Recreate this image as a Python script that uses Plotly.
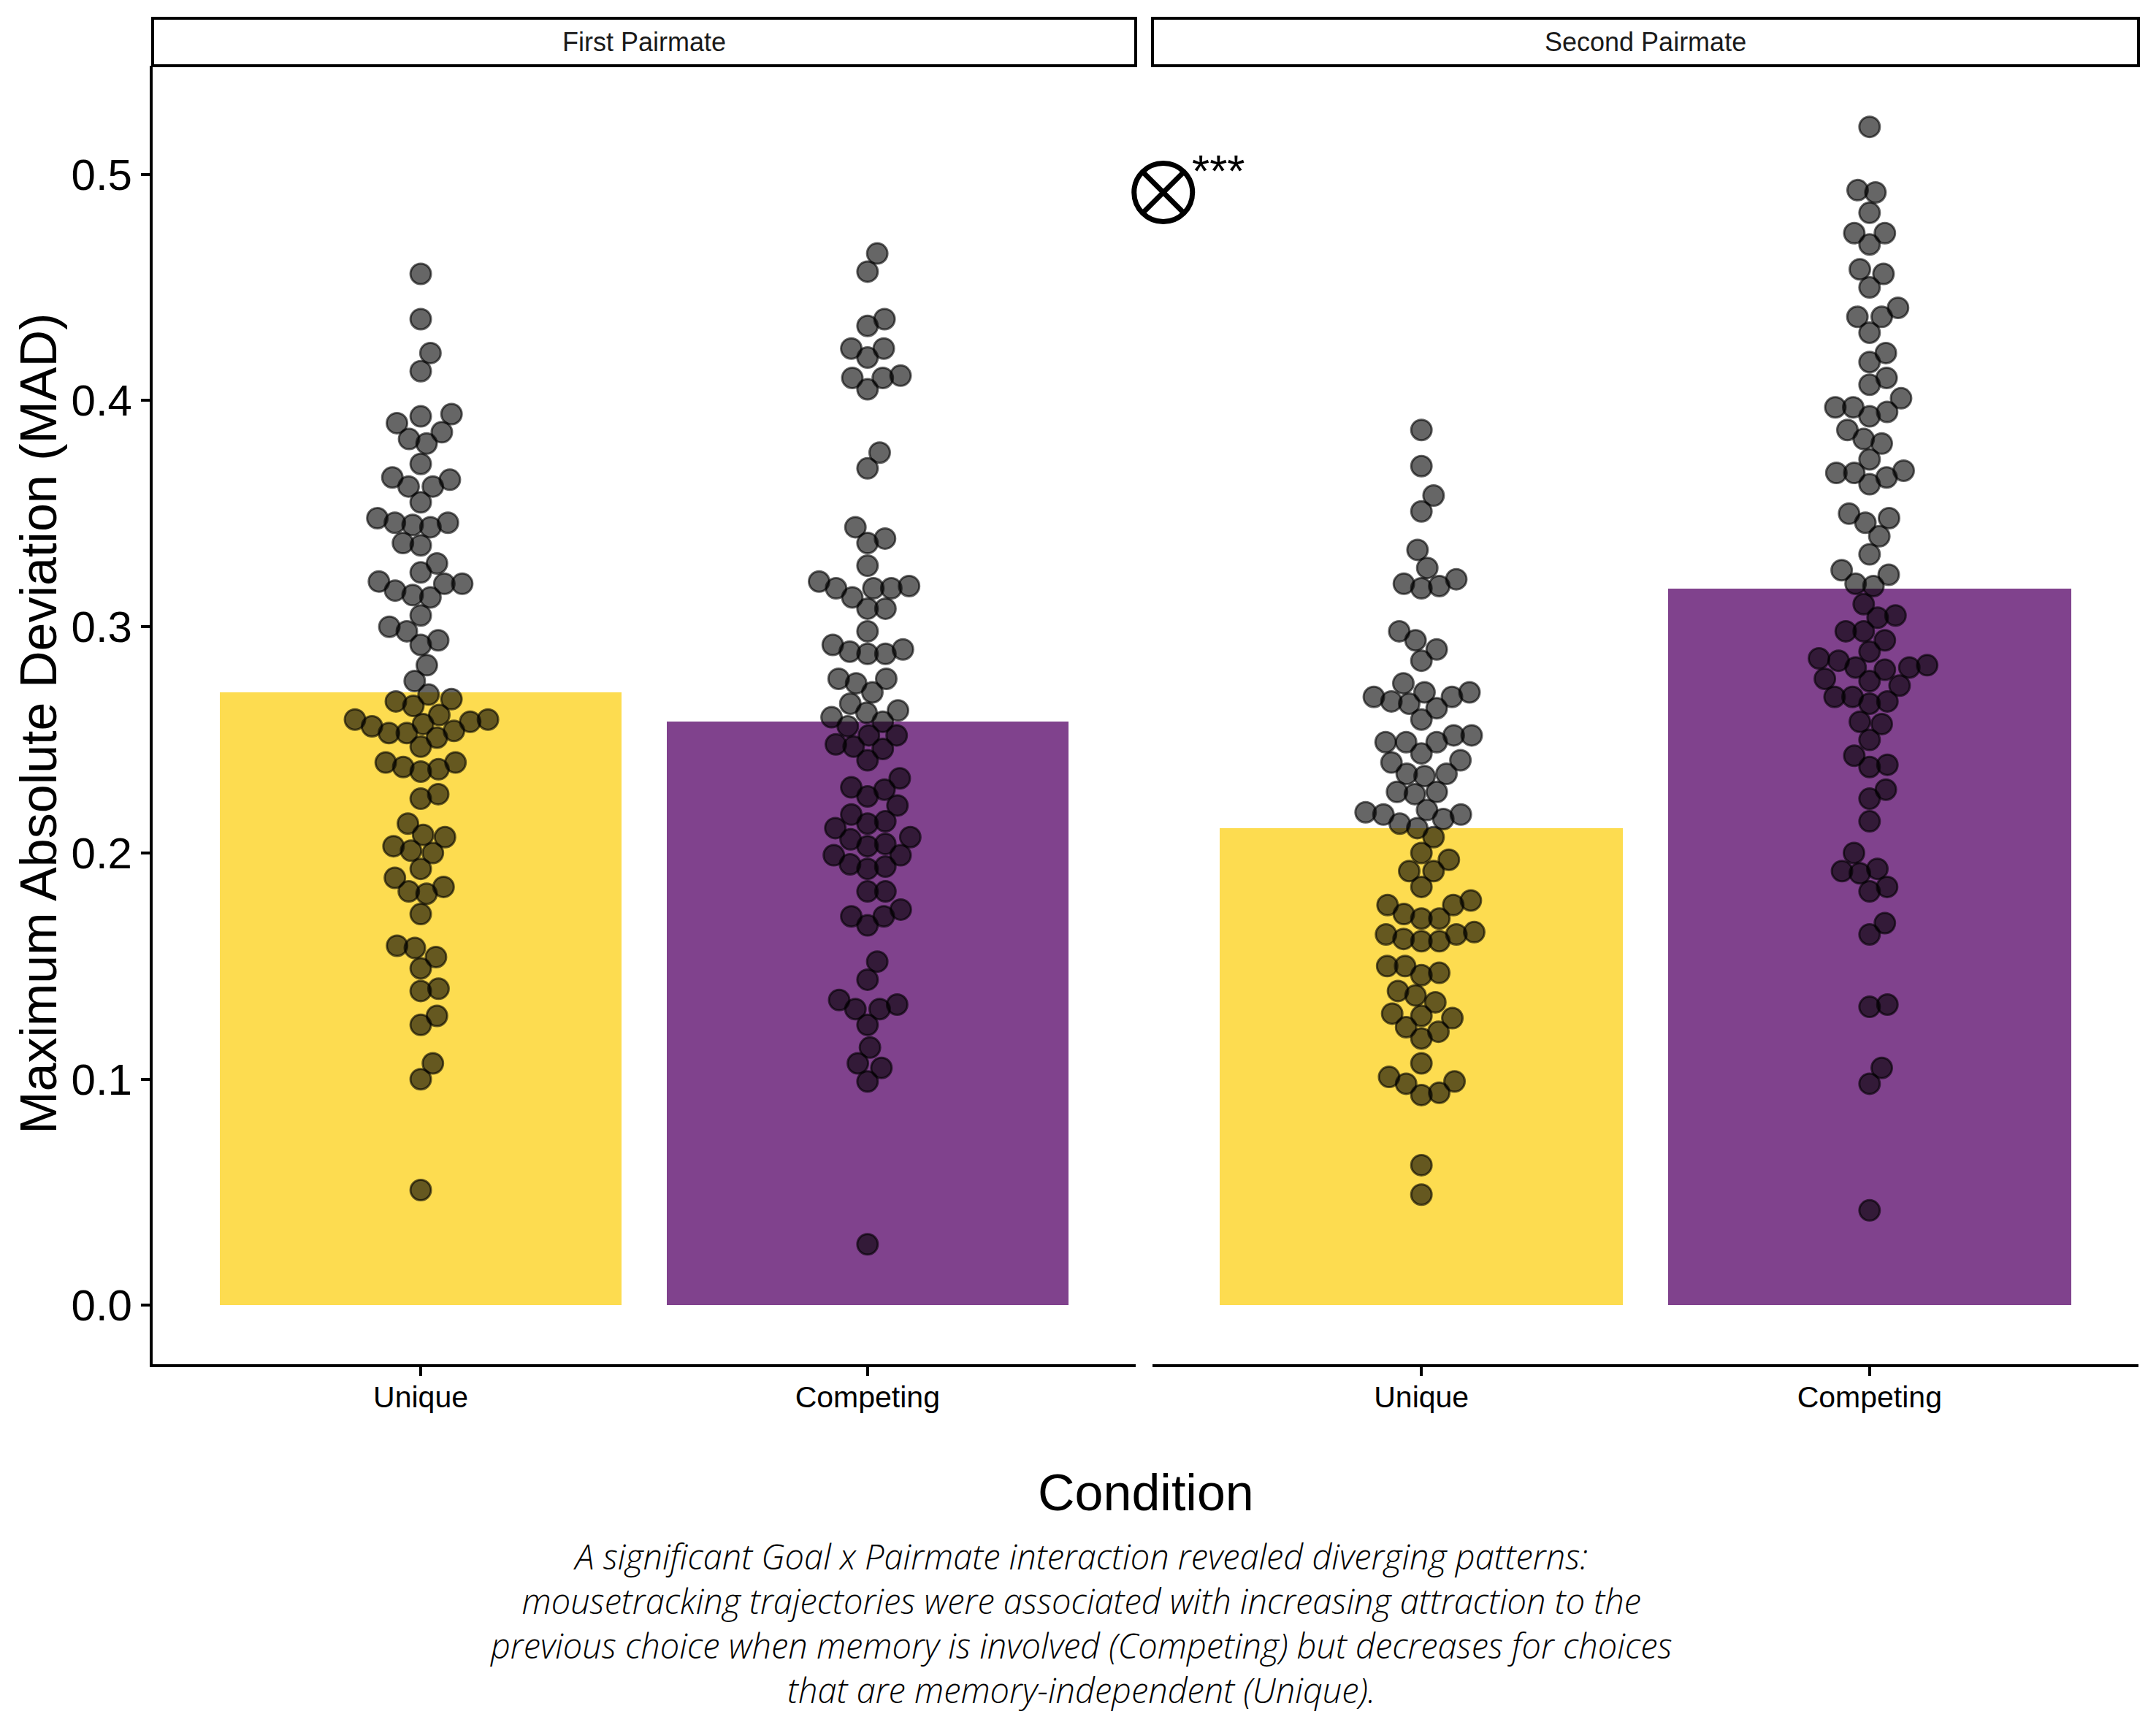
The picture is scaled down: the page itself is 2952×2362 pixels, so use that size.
import math
import plotly.graph_objects as go

# Maximum absolute deviation per participant
conditions = ["Unique", "Competing"]
panels = ["First Pairmate", "Second Pairmate"]

first_unique = [0.456, 0.436, 0.421, 0.413, 0.390, 0.393, 0.394, 0.383, 0.386, 0.381,
                0.372, 0.365, 0.366, 0.362, 0.362, 0.355, 0.346, 0.348, 0.344, 0.345,
                0.346, 0.337, 0.336, 0.328, 0.324, 0.319, 0.316, 0.314, 0.319, 0.320,
                0.313, 0.305, 0.300, 0.298, 0.294, 0.292, 0.283, 0.276, 0.270, 0.267,
                0.268, 0.265, 0.261, 0.259, 0.258, 0.257, 0.259, 0.256, 0.254, 0.253,
                0.251, 0.253, 0.247, 0.236, 0.238, 0.240, 0.240, 0.237, 0.226, 0.224,
                0.213, 0.207, 0.208, 0.200, 0.201, 0.203, 0.193, 0.189, 0.182, 0.183,
                0.185, 0.173, 0.159, 0.158, 0.154, 0.149, 0.140, 0.139, 0.128, 0.124,
                0.107, 0.100, 0.051]
first_competing = [0.465, 0.457, 0.436, 0.433, 0.423, 0.423, 0.419, 0.410, 0.411, 0.410,
                   0.405, 0.377, 0.370, 0.344, 0.337, 0.339, 0.327, 0.320, 0.317, 0.317,
                   0.317, 0.318, 0.313, 0.308, 0.308, 0.298, 0.292, 0.289, 0.288, 0.288,
                   0.290, 0.277, 0.275, 0.277, 0.271, 0.266, 0.262, 0.263, 0.260, 0.258,
                   0.256, 0.252, 0.252, 0.248, 0.247, 0.246, 0.241, 0.233, 0.228, 0.229,
                   0.225, 0.221, 0.217, 0.211, 0.213, 0.214, 0.207, 0.206, 0.204, 0.203,
                   0.199, 0.199, 0.195, 0.194, 0.193, 0.183, 0.183, 0.175, 0.172, 0.172,
                   0.168, 0.152, 0.144, 0.135, 0.133, 0.131, 0.131, 0.124, 0.114, 0.107,
                   0.105, 0.099, 0.027]
second_unique = [0.387, 0.371, 0.358, 0.351, 0.334, 0.326, 0.319, 0.317, 0.318, 0.321,
                 0.298, 0.294, 0.290, 0.285, 0.275, 0.271, 0.269, 0.267, 0.266, 0.269,
                 0.271, 0.264, 0.259, 0.252, 0.252, 0.249, 0.249, 0.249, 0.244, 0.241,
                 0.240, 0.235, 0.234, 0.235, 0.227, 0.226, 0.227, 0.215, 0.218, 0.213,
                 0.219, 0.211, 0.217, 0.217, 0.207, 0.200, 0.197, 0.192, 0.192, 0.185,
                 0.177, 0.177, 0.179, 0.171, 0.171, 0.173, 0.161, 0.164, 0.165, 0.164,
                 0.162, 0.161, 0.147, 0.150, 0.150, 0.146, 0.139, 0.137, 0.134, 0.127,
                 0.129, 0.128, 0.123, 0.121, 0.118, 0.107, 0.098, 0.099, 0.101, 0.093,
                 0.094, 0.062, 0.049]
second_competing = [0.521, 0.493, 0.492, 0.483, 0.474, 0.474, 0.469, 0.458, 0.456, 0.450,
                    0.441, 0.437, 0.437, 0.430, 0.421, 0.417, 0.410, 0.407, 0.401, 0.397,
                    0.397, 0.393, 0.395, 0.387, 0.383, 0.381, 0.374, 0.368, 0.368, 0.366,
                    0.369, 0.363, 0.348, 0.346, 0.350, 0.340, 0.332, 0.323, 0.325, 0.318,
                    0.319, 0.310, 0.305, 0.304, 0.298, 0.298, 0.294, 0.289, 0.281, 0.283,
                    0.285, 0.286, 0.282, 0.282, 0.277, 0.274, 0.276, 0.269, 0.267, 0.269,
                    0.266, 0.257, 0.258, 0.250, 0.243, 0.238, 0.239, 0.228, 0.224, 0.214,
                    0.200, 0.191, 0.192, 0.193, 0.183, 0.185, 0.169, 0.164, 0.133, 0.132,
                    0.105, 0.098, 0.042]

# bar heights (condition means)
first_means = [0.271, 0.258]
second_means = [0.211, 0.317]

caption_lines = [
    "A significant Goal x Pairmate interaction revealed diverging patterns:",
    "mousetracking trajectories were associated with increasing attraction to the",
    "previous choice when memory is involved (Competing) but decreases for choices",
    "that are memory-independent (Unique).",
]

bar_colors = ["#FDDC50", "#80428D"]
FONT = "Liberation Sans, Arial, sans-serif"

# the page body has an 8px margin, so the figure is a bit smaller than the window
W, H = 2944, 2354
ML, MR, MT, MB = 201, 24, 82, 494
PLOT_H = H - MT - MB
Y_RANGE = [-0.026, 0.548]
px_per_y = PLOT_H / (Y_RANGE[1] - Y_RANGE[0])
px_per_x = 1346 / 2.2


def paper_y(win_y):
    # vertical position in the window -> paper coordinate
    return (MT + 8 + PLOT_H - win_y) / PLOT_H


def swarm(values, sx=24.5, sy=29.5):
    # simple beeswarm: lowest values first, each point as close to the centre as it fits
    ys = [v * px_per_y for v in values]
    order = sorted(range(len(ys)), key=lambda i: ys[i])
    placed = []
    xs = [0.0] * len(ys)
    for i in order:
        y = ys[i]
        cands = [0.0]
        for (qx, qy) in placed:
            d = (y - qy) / sy
            if abs(d) < 1:
                dx = sx * math.sqrt(1 - d * d)
                cands += [qx + dx, qx - dx]
        cands.sort(key=lambda c: (abs(c), -c))
        for c in cands:
            if all(((c - qx) / sx) ** 2 + ((y - qy) / sy) ** 2 >= 1 - 1e-6 for qx, qy in placed):
                break
        xs[i] = c
        placed.append((c, y))
    return [x / px_per_x for x in xs]


fig = go.Figure()

groups = [(first_means, [first_unique, first_competing], "x", "y"),
          (second_means, [second_unique, second_competing], "x2", "y2")]

for means, samples, xa, ya in groups:
    fig.add_trace(go.Bar(x=[1, 2], y=means, width=0.9, marker_color=bar_colors,
                         marker_line_width=0, xaxis=xa, yaxis=ya, showlegend=False))
    for k, vals in enumerate(samples):
        offs = swarm(vals)
        fig.add_trace(go.Scatter(
            x=[k + 1 + o for o in offs], y=vals, mode="markers", xaxis=xa, yaxis=ya,
            marker=dict(size=28, color="rgba(0,0,0,0.6)",
                        line=dict(color="rgba(0,0,0,0.6)", width=3)),
            showlegend=False, hoverinfo="y"))

# interaction marker
fig.add_trace(go.Scatter(x=[0.424], y=[0.492], mode="markers", xaxis="x2", yaxis="y2",
                         marker=dict(symbol="circle-x-open", size=80, color="black",
                                     line=dict(color="black", width=7)),
                         cliponaxis=False, showlegend=False, hoverinfo="skip"))

xaxis_style = dict(range=[0.4, 2.6], tickvals=[1, 2], ticktext=conditions,
                   showline=True, linecolor="black", linewidth=4, ticks="outside",
                   ticklen=12, tickwidth=4, tickcolor="black", showgrid=False,
                   zeroline=False, ticklabelstandoff=-6,
                   tickfont=dict(family=FONT, size=41, color="black"))

fig.update_layout(
    width=W, height=H,
    margin=dict(l=ML, r=MR, t=MT, b=MB),
    plot_bgcolor="white", paper_bgcolor="white",
    bargap=0, showlegend=False,
    xaxis=dict(domain=[0, 0.495], **xaxis_style),
    xaxis2=dict(domain=[0.5035, 1], **xaxis_style),
    yaxis=dict(range=Y_RANGE, tickvals=[0, 0.1, 0.2, 0.3, 0.4, 0.5],
               ticktext=["0.0", "0.1", "0.2", "0.3", "0.4", "0.5"],
               showline=True, linecolor="black", linewidth=4, ticks="outside",
               ticklen=12, tickwidth=4, tickcolor="black", showgrid=False,
               zeroline=False, tickfont=dict(family=FONT, size=60, color="black")),
    yaxis2=dict(range=Y_RANGE, anchor="x2", matches="y", showticklabels=False,
                showline=False, showgrid=False, zeroline=False, ticks=""),
)

strip_top = paper_y(25)
for name, xa in zip(panels, ["x", "x2"]):
    fig.add_shape(type="rect", xref=f"{xa} domain", yref="paper", x0=0, x1=1,
                  y0=1.0, y1=strip_top, line=dict(color="black", width=4),
                  fillcolor="white", layer="above")
    fig.add_annotation(text=name, xref=f"{xa} domain", yref="paper", x=0.5,
                       y=(1 + strip_top) / 2, showarrow=False, xanchor="center",
                       yanchor="middle", font=dict(family=FONT, size=36, color="#1a1a1a"))

fig.add_annotation(text="***", xref="x2", yref="y2", x=0.424, y=0.492, xshift=75, yshift=30,
                   showarrow=False, font=dict(family=FONT, size=62, color="black"))

fig.add_annotation(text="Maximum Absolute Deviation (MAD)", xref="paper", yref="paper",
                   x=-0.0574, y=0.4933, textangle=-90, showarrow=False,
                   xanchor="center", yanchor="middle",
                   font=dict(family=FONT, size=70, color="black"))
fig.add_annotation(text="Condition", xref="paper", yref="paper", x=0.5, y=paper_y(2044),
                   showarrow=False, xanchor="center", yanchor="middle",
                   font=dict(family=FONT, size=70, color="black"))

caption_x = (W / 2 - ML) / (W - ML - MR)
fig.add_annotation(text="<i>" + "<br>".join(caption_lines) + "</i>",
                   xref="paper", yref="paper", x=caption_x, y=paper_y(2222),
                   showarrow=False, xanchor="center", yanchor="middle", align="center",
                   font=dict(family="Open Sans, sans-serif", size=47,
                             color="black", weight=300))

fig.write_html("out.html")
